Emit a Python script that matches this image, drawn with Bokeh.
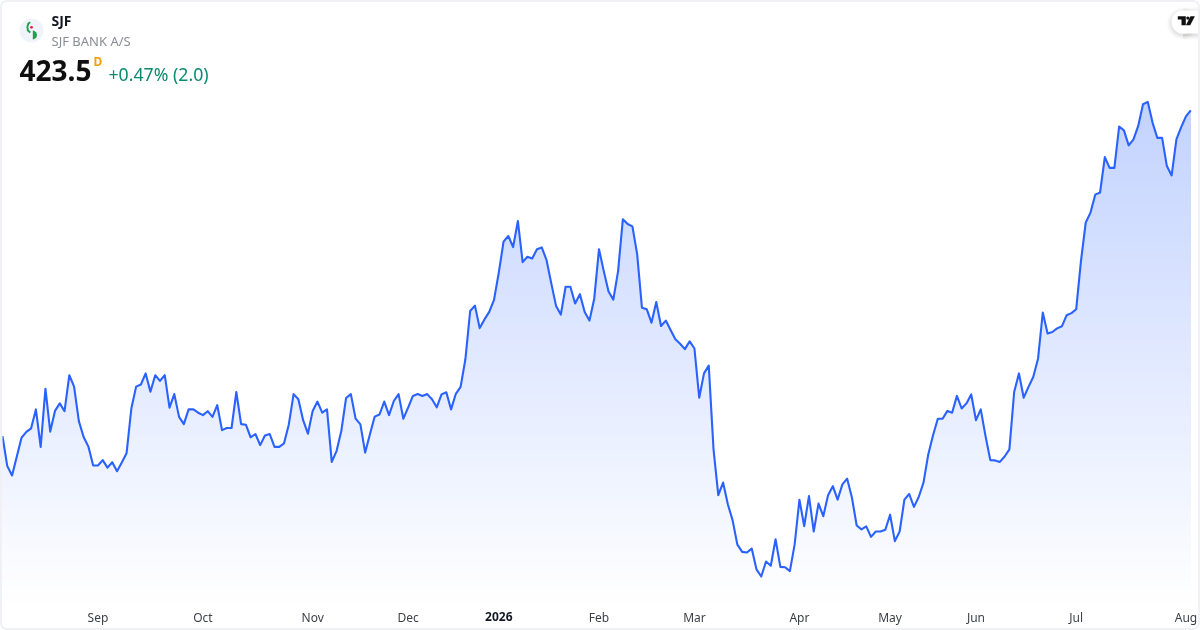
import numpy as np
from bokeh.embed import file_html
from bokeh.resources import INLINE
from bokeh.plotting import figure
from bokeh.models import Range1d, FixedTicker, LinearAxis
from bokeh.core.properties import value

# Daily closes
closes = [
314.9,304.9,301.8,308.1,314.4,316.3,317.5,323.8,311.3,330.7,316.4,323.3,325.8,323.2,335.2,331.4,319.9,314.6,311.4,305.1,
305.1,306.9,304.4,306.2,303.2,306.1,309.2,324.1,331.4,332.1,335.8,329.7,335.2,333.3,335.2,324.4,328.9,321.3,318.9,323.8,
323.8,322.7,321.9,323.2,321.3,325.2,316.9,317.6,317.6,329.6,318.9,318.7,314.5,315.6,311.9,315.1,315.6,311.3,311.3,312.5,
318.8,328.9,327.2,320.2,315.7,323.3,326.4,322.7,323.8,306.3,309.9,316.6,327.6,328.9,320.7,318.8,309.4,315.5,321.4,322.1,
326.4,321.9,326.6,328.9,320.7,324.4,328.3,328.9,328.3,328.9,327.2,324.5,328.8,329.5,323.8,329.0,331.3,340.5,356.6,358.4,
350.9,353.8,356.3,360.3,369.4,379.7,381.6,377.9,386.6,372.9,374.7,374.1,377.2,377.8,373.6,365.8,358.3,355.4,364.7,364.7,
359.1,362.2,356.3,353.4,360.7,377.2,369.9,363.1,360.4,369.9,387.2,385.6,384.8,375.5,357.7,357.2,352.7,359.6,351.6,353.4,
350.3,347.2,345.7,343.9,346.5,344.1,327.7,335.8,338.4,310.5,295.2,299.4,292.2,286.8,278.7,276.3,276.1,277.4,270.5,268.1,
273.1,271.7,280.5,271.3,271.2,269.9,278.8,293.7,284.9,294.9,283.1,292.4,288.2,295.2,298.2,293.7,298.8,300.7,294.4,285.1,
283.8,284.8,281.3,283.1,283.1,283.7,288.7,279.9,283.1,293.7,295.6,291.3,294.6,299.4,308.8,315.2,320.7,320.7,323.3,322.7,
328.3,324.1,325.8,328.8,320.2,323.8,314.9,306.9,306.8,306.3,308.1,310.5,329.6,335.8,327.7,331.3,334.6,340.7,356.1,349.1,
349.6,350.8,351.5,355.2,355.9,357.2,373.3,386.1,389.4,395.4,396.1,407.9,404.3,404.3,418.1,416.8,411.8,413.8,418.3,425.5,
426.3,419.4,414.3,414.3,404.9,401.8,413.8,417.9,421.5,423.5]
tick_index = [20, 42, 65, 85, 125, 145, 167, 186, 204, 225, 248]
tick_labels = ["Sep", "Oct", "Nov", "Dec", "Feb", "Mar", "Apr", "May", "Jun", "Jul", "Aug"]
year_index = 104
year_label = "2026"
symbol = "SJF"
company = "SJF BANK A/S"
last_price = "423.5"
change_text = "+0.47% (2.0)"

B = 2                       # card border width
WIDTH, HEIGHT = 1200, 630
FRAME_BOTTOM = 601
STEP = 4.772
X0 = 2.0
Y_TOP = 460.1               # price at pixel row 0
xs = np.arange(len(closes))
ys = np.array(closes)

# The canvas keeps its full size inside the border, so it starts at page pixel B
p = figure(width=WIDTH, height=HEIGHT, output_backend="svg", toolbar_location=None,
           x_range=Range1d((B - X0) / STEP, (WIDTH + B - X0) / STEP),
           y_range=Range1d(Y_TOP - FRAME_BOTTOM / 3, Y_TOP - B / 3),
           min_border=0, min_border_left=0, min_border_right=0, min_border_top=0,
           min_border_bottom=HEIGHT + B - FRAME_BOTTOM,
           background_fill_color="white", border_fill_color="white", outline_line_color=None,
           styles={"position": "fixed", "left": "0px", "top": "0px", "border": f"{B}px solid #f0f1f4",
                   "borderRadius": "7px", "overflow": "hidden"})
p.grid.visible = False
p.yaxis.visible = False

def style_axis(ax, font_style, color, standoff):
    ax.axis_line_color = None
    ax.major_tick_line_color = None
    ax.minor_tick_line_color = None
    ax.major_tick_out = 0
    ax.major_tick_in = 0
    ax.minor_tick_out = 0
    ax.minor_tick_in = 0
    ax.major_label_text_font = "Noto Sans"
    ax.major_label_text_font_size = "12px"
    ax.major_label_text_font_style = font_style
    ax.major_label_text_color = color
    ax.major_label_standoff = standoff

ax = p.xaxis[0]
ax.ticker = FixedTicker(ticks=tick_index)
ax.major_label_overrides = dict(zip(tick_index, tick_labels))
style_axis(ax, "normal", "#3c3f47", 7)

floor_price = p.y_range.start
year_axis = LinearAxis(ticker=FixedTicker(ticks=[year_index]), major_label_overrides={year_index: year_label})
style_axis(year_axis, "bold", "#131722", -17)
p.add_layout(year_axis, "below")

p.extra_x_ranges["px"] = Range1d(B, WIDTH + B)
p.extra_y_ranges["px"] = Range1d(FRAME_BOTTOM, B)
PX = dict(x_range_name="px", y_range_name="px")

# vertical gradient under the line: painted top band first, lower bands over it
BANDS = 70
top_price = ys.max()
edges = np.linspace(top_price, floor_price, BANDS + 1)[:-1]
for e in edges:
    a = 0.28 * (e - floor_price) / (top_price - floor_price)
    col = "#%02x%02x%02x" % (round(255 - 214 * a), round(255 - 157 * a), 255)
    p.varea(xs, y1=floor_price, y2=np.minimum(ys, e), fill_color=col, fill_alpha=1)

p.line(xs, ys, line_color="#2962ff", line_width=2.1, line_join="round")

# header: logo
p.circle([31], [30], radius=12, fill_color="#f0f3fa", line_color=None, **PX)
p.line([29.8, 27.8, 26.9, 27.4, 29.8], [21.8, 23, 26.5, 30, 32], line_color="#22a04f", line_width=1.9, **PX)
p.circle([31], [26.8], radius=1.4, fill_color="#e0283c", line_color=None, **PX)
p.patch([32.3, 34, 35.8, 36.6, 35.8, 34, 32.3], [30, 30.4, 32, 34.5, 37, 38.6, 39],
        fill_color="#22a04f", line_color=None, **PX)

def txt(x, y, s, size, color, style="normal"):
    p.text([x], [y], text=[s], text_font=value("Noto Sans"), text_font_size=size, text_color=color,
           text_font_style=style, text_align="left", text_baseline="alphabetic", **PX)

txt(51, 20, symbol, "14px", "#131722", "bold")
txt(51, 40.5, company, "13px", "#8a8d94")
txt(19, 70, last_price, "28px", "#0f0f0f", "bold")
txt(93, 61, "D", "12px", "#f59f0a", "bold")
txt(108, 73.5, change_text, "17.7px", "#0b8a71")

# TradingView badge with soft shadow
for d, al in ((5, 0.012), (4, 0.015), (3, 0.02), (2, 0.025), (1, 0.03)):
    p.circle([1182.5], [23], radius=11.5 + d, fill_color="#000000", fill_alpha=al, line_color=None, **PX)
    p.hbar([23], height=23 + 2 * d, left=1182.5, right=1201, fill_color="#000000", fill_alpha=al, line_color=None, **PX)
p.circle([1182.5], [21.5], radius=11.5, fill_color="white", line_color=None, **PX)
p.hbar([21.5], height=23, left=1182.5, right=1201, fill_color="white", line_color=None, **PX)
p.patch([1177.3, 1185.3, 1185.3, 1181, 1181, 1177.3], [15.7, 15.7, 24.8, 24.8, 19, 19], fill_color="#111111", line_color=None, **PX)
p.circle([1187.4], [17.6], radius=1.7, fill_color="#111111", line_color=None, **PX)
p.patch([1190, 1194.4, 1189.7, 1185.4], [15.7, 15.7, 24.8, 24.8], fill_color="#111111", line_color=None, **PX)

open("out.html", "w").write(file_html(p, INLINE))
